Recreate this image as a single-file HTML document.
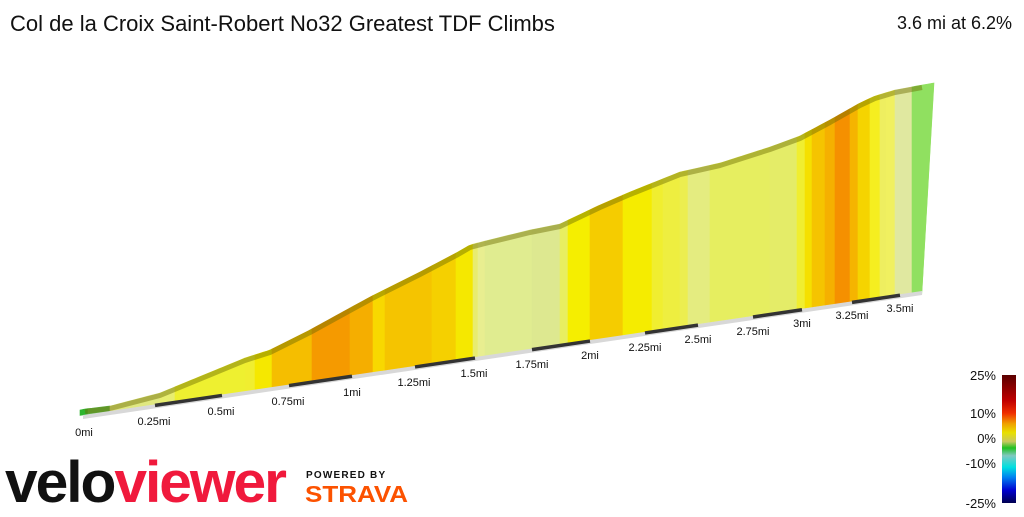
<!DOCTYPE html>
<html><head><meta charset="utf-8"><style>
body{margin:0;background:#fff;width:1024px;height:512px;overflow:hidden;font-family:"Liberation Sans",sans-serif}
</style></head><body>
<svg width="1024" height="512" xmlns="http://www.w3.org/2000/svg">
<text x="10" y="31" font-size="22" fill="#111">Col de la Croix Saint-Robert No32 Greatest TDF Climbs</text>
<text x="1012" y="29" font-size="18" fill="#111" text-anchor="end">3.6 mi at 6.2%</text>
<g id="strips"></g>
<polyline id="topband" fill="none" stroke="#6a6a00" stroke-opacity="0.45" stroke-width="5" stroke-linejoin="round"/>
<polygon points="83,415 922,291 922,295 83,419" fill="#d8d8d8"/>
<g id="ticks" stroke="#333" stroke-width="3.5"></g>
<g font-size="11" fill="#111" text-anchor="middle">
<text x="84" y="436">0mi</text><text x="154" y="425">0.25mi</text><text x="221" y="415">0.5mi</text>
<text x="288" y="405">0.75mi</text><text x="352" y="396">1mi</text><text x="414" y="386">1.25mi</text>
<text x="474" y="377">1.5mi</text><text x="532" y="368">1.75mi</text><text x="590" y="359">2mi</text>
<text x="645" y="351">2.25mi</text><text x="698" y="343">2.5mi</text><text x="753" y="335">2.75mi</text>
<text x="802" y="327">3mi</text><text x="852" y="319">3.25mi</text><text x="900" y="312">3.5mi</text>
</g>
<defs><linearGradient id="lg" x1="0" y1="0" x2="0" y2="1">
<stop offset="0" stop-color="#5a0000"/><stop offset="0.2" stop-color="#c00000"/><stop offset="0.3" stop-color="#f03000"/>
<stop offset="0.38" stop-color="#f0a000"/><stop offset="0.45" stop-color="#e8e000"/><stop offset="0.52" stop-color="#c8c860"/>
<stop offset="0.57" stop-color="#20c020"/><stop offset="0.63" stop-color="#80c8c0"/><stop offset="0.72" stop-color="#00e0e0"/>
<stop offset="0.8" stop-color="#0080f0"/><stop offset="0.9" stop-color="#0000d0"/><stop offset="1" stop-color="#000050"/></linearGradient></defs>
<rect x="1002" y="375" width="14" height="128" fill="url(#lg)"/>
<g font-size="13" fill="#111" text-anchor="end">
<text x="996" y="380">25%</text><text x="996" y="418">10%</text><text x="996" y="443">0%</text>
<text x="996" y="468">-10%</text><text x="996" y="508">-25%</text></g>
<text x="5" y="502" font-size="58" font-weight="bold" letter-spacing="-2" fill="#111" textLength="280" lengthAdjust="spacingAndGlyphs">velo<tspan fill="#f0193c">viewer</tspan></text>
<text x="306" y="478" font-size="10" font-weight="bold" letter-spacing="1.2" fill="#111">POWERED BY</text>
<text x="305" y="502" font-size="23" font-weight="bold" fill="#fc5200" textLength="103" lengthAdjust="spacingAndGlyphs">STRAVA</text>
</svg>
<script>
(function(){
const tp=[[80,410],[85,409],[110,406],[160,393],[245,358],[270,350],[310,330],[350,308],[372,296],[420,272],[458,252],[470,245],[485,241],[530,230],[560,224],[600,205],[630,192],[680,172],[720,163],[770,147],[800,136],[830,120],[860,103],[875,96],[895,90],[922,85],[934,83]];
function ty(x){for(let i=0;i<tp.length-1;i++){const a=tp[i],b=tp[i+1];if(x<=b[0]){return a[1]+(b[1]-a[1])*(x-a[0])/(b[0]-a[0]);}}return 83;}
function by(x){return 415-0.1478*(x-83);}
const s=[[80,88,'#2db52d'],[88,110,'#5cb848'],[110,160,'#e0e880'],[160,175,'#e8ee70'],[175,245,'#eef030'],[245,255,'#f0ee30'],[255,272,'#f5e800'],[272,312,'#f5be00'],[312,350,'#f59a00'],[350,373,'#f5ae00'],[373,385,'#f8d800'],[385,432,'#f5c400'],[432,456,'#f5d000'],[456,473,'#f5e800'],[473,478,'#e8ec70'],[478,485,'#e8ee90'],[485,532,'#e0ec90'],[532,560,'#dde890'],[560,568,'#e8ee60'],[568,590,'#f5ee00'],[590,623,'#f5cc00'],[623,652,'#f5ec00'],[652,663,'#f0ee30'],[663,680,'#eeee40'],[680,688,'#ecee50'],[688,710,'#e4ec80'],[710,770,'#e6ee60'],[770,797,'#e4ec68'],[797,805,'#f0ee30'],[805,812,'#f5e000'],[812,825,'#f5c400'],[825,835,'#f5b000'],[835,850,'#f59000'],[850,858,'#f5b400'],[858,870,'#f5d400'],[870,880,'#f5ee20'],[880,886,'#eeee60'],[886,895,'#f0f060'],[895,912,'#e0e8a0'],[912,934,'#90e060']];
let h='';
for(const [a,b,c] of s){let pts=[];for(let x=a;x<b;x+=4)pts.push([x,ty(x)]);pts.push([b,ty(b)]);
let bb=Math.min(b,922);pts.push([bb,by(bb)]);pts.push([a,by(a)]);
h+='<polygon points="'+pts.map(p=>p[0]+','+p[1].toFixed(1)).join(' ')+'" fill="'+c+'" stroke="'+c+'" stroke-width="0.6"/>';}
h+='<polygon points="922,291 934,83 934,85 922,295" fill="#90e060"/>';
document.getElementById('strips').innerHTML=h;
document.getElementById('topband').setAttribute('points',tp.slice(1,-1).map(p=>p[0]+','+(p[1]+2.5)).join(' '));
let t='';for(const [a,b] of [[155,222],[289,352],[415,475],[532,590],[645,698],[753,802],[852,900]])t+='<line x1="'+a+'" y1="'+(by(a)+1)+'" x2="'+b+'" y2="'+(by(b)+1)+'"/>';
document.getElementById('ticks').innerHTML=t;
})();
</script>
</body></html>
